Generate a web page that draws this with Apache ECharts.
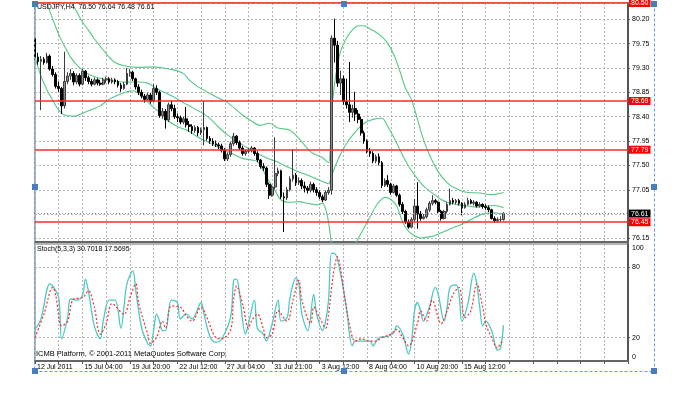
<!DOCTYPE html>
<html><head><meta charset="utf-8">
<script src="https://cdn.jsdelivr.net/npm/echarts@6/dist/echarts.min.js"></script>
<style>html,body{margin:0;padding:0;background:#fff}#c{width:679px;height:395px}</style>
</head><body><div id="c"></div>
<script>
const symbol = 'USDJPY,H4';
const xTickLabels = ['12 Jul 2011','15 Jul 04:00','19 Jul 20:00','22 Jul 12:00','27 Jul 04:00','31 Jul 21:00','3 Aug 12:00','8 Aug 04:00','10 Aug 20:00','15 Aug 12:00'];
const xTickBars = [0,16,32,48,64,80,96,112,128,144];
const priceTicks = [80.20,79.75,79.30,78.85,78.40,77.95,77.50,77.05,76.60,76.15];
const redLevels = [80.50,78.69,77.79,76.45];
const lastPrice = 76.61;
const stochTicks = [0,20,80,100];
const stochLevels = [20,80];
const stochTitle = 'Stoch(5,3,3) 30.7018 17.5695';
const copyright = 'ICMB Platform, \u00A9 2001-2011 MetaQuotes Software Corp.';

const opens = [79.84,79.50,79.42,79.46,79.40,79.52,79.28,79.18,78.96,78.92,
78.60,79.05,79.15,79.20,79.04,79.16,79.00,79.24,79.12,79.05,
79.00,79.08,79.02,79.00,79.08,79.10,79.04,79.08,79.05,78.98,
78.92,79.00,79.20,79.22,79.10,78.95,78.85,78.78,78.72,78.80,
78.68,78.92,78.85,78.42,78.50,78.34,78.62,78.55,78.40,78.38,
78.30,78.36,78.25,78.22,78.14,78.20,78.10,78.16,78.20,78.00,
77.95,77.90,77.88,77.86,77.78,77.62,77.70,77.90,78.04,77.92,
77.82,77.72,77.76,77.78,77.82,77.72,77.60,77.48,77.45,77.15,
76.95,77.10,77.35,77.40,76.92,76.90,77.05,77.25,77.32,77.18,
77.22,77.12,77.08,77.04,77.15,77.05,77.00,76.92,76.86,77.00,
77.04,79.85,79.72,79.02,79.10,78.68,78.62,78.48,78.55,78.45,
78.35,78.10,77.95,77.76,77.72,77.58,77.66,77.55,77.13,77.22,
77.15,77.00,77.12,76.95,76.78,76.65,76.45,76.36,76.50,76.75,
76.60,76.52,76.55,76.68,76.80,76.85,76.82,76.65,76.52,76.65,
76.78,76.85,76.82,76.85,76.80,76.72,76.78,76.85,76.80,76.82,
76.75,76.78,76.74,76.72,76.68,76.52,76.48,76.50,76.50];
const closes = [79.50,79.42,79.46,79.40,79.52,79.28,79.18,78.96,78.92,78.60,
79.05,79.15,79.20,79.04,79.16,79.00,79.24,79.12,79.05,79.00,
79.08,79.02,79.00,79.08,79.10,79.04,79.08,79.05,78.98,78.92,
79.00,79.20,79.22,79.10,78.95,78.85,78.78,78.72,78.80,78.68,
78.92,78.85,78.42,78.50,78.34,78.62,78.55,78.40,78.38,78.30,
78.36,78.25,78.22,78.14,78.20,78.10,78.16,78.20,78.00,77.95,
77.90,77.88,77.86,77.78,77.62,77.70,77.90,78.04,77.92,77.82,
77.72,77.76,77.78,77.82,77.72,77.60,77.48,77.45,77.15,76.95,
77.10,77.35,77.40,76.92,76.90,77.05,77.25,77.32,77.18,77.22,
77.12,77.08,77.04,77.15,77.05,77.00,76.92,76.86,77.00,77.04,
79.85,79.72,79.02,79.10,78.68,78.62,78.48,78.55,78.45,78.35,
78.10,77.95,77.76,77.72,77.58,77.66,77.55,77.13,77.22,77.15,
77.00,77.12,76.95,76.78,76.65,76.45,76.36,76.50,76.75,76.60,
76.52,76.55,76.68,76.80,76.85,76.82,76.65,76.52,76.65,76.78,
76.85,76.82,76.85,76.80,76.72,76.78,76.85,76.80,76.82,76.75,
76.78,76.74,76.72,76.68,76.52,76.48,76.50,76.50,76.61];
const highs = [79.86,79.58,79.52,79.50,79.58,79.55,79.34,79.22,79.05,78.95,
79.60,79.22,79.28,79.24,79.20,79.20,79.28,79.26,79.16,79.10,
79.12,79.11,79.08,79.12,79.14,79.13,79.12,79.11,79.08,79.02,
79.04,79.30,79.28,79.25,79.12,79.00,78.90,78.82,78.84,78.84,
79.00,78.98,78.88,78.56,78.54,78.66,78.70,78.62,78.46,78.42,
78.40,78.58,78.32,78.26,78.24,78.23,78.20,78.68,78.22,78.04,
78.00,77.96,77.92,77.90,77.82,77.74,77.94,78.10,78.06,77.96,
77.86,77.80,77.82,77.86,77.84,77.76,77.62,77.54,77.48,77.18,
77.14,78.02,77.46,77.42,77.00,77.10,77.30,77.80,77.36,77.28,
77.26,77.20,77.12,77.20,77.18,77.10,77.04,76.96,77.04,77.10,
79.90,80.21,79.80,79.25,79.16,79.10,79.41,78.62,78.86,78.52,
78.40,78.14,77.98,77.82,77.76,77.70,77.72,77.58,77.26,77.32,
77.18,77.16,77.14,76.98,76.82,76.68,76.50,76.54,76.88,77.19,
76.66,76.60,76.72,76.84,76.95,76.88,76.84,76.68,76.68,76.82,
77.07,76.90,76.88,76.88,76.82,76.82,76.90,76.88,76.86,76.84,
76.82,76.80,76.78,76.76,76.70,76.56,76.54,76.56,76.64];
const lows = [79.45,79.36,78.52,79.36,79.38,79.25,79.14,78.92,78.86,78.45,
78.55,79.00,79.08,78.98,79.00,78.96,78.98,79.06,79.00,78.96,
78.98,78.98,78.97,78.98,79.02,79.00,79.01,79.00,78.94,78.86,
78.90,78.98,79.14,79.06,78.90,78.80,78.74,78.66,78.70,78.64,
78.66,78.80,78.38,78.36,78.18,78.30,78.50,78.36,78.30,78.26,
78.26,78.20,78.12,78.08,78.10,78.04,78.06,77.87,77.96,77.90,
77.86,77.84,77.80,77.74,77.58,77.58,77.66,77.86,77.88,77.78,
77.68,77.68,77.72,77.74,77.68,77.56,77.44,77.40,77.10,76.88,
76.92,77.06,77.30,76.88,76.27,76.86,77.02,77.20,77.12,77.14,
77.06,77.00,76.98,77.00,77.00,76.94,76.88,76.82,76.84,76.96,
76.96,79.40,78.95,78.80,78.62,78.55,78.30,78.38,78.32,78.28,
78.05,77.90,77.72,77.66,77.54,77.54,77.50,77.08,77.10,77.10,
76.96,76.98,76.92,76.74,76.60,76.42,76.33,76.34,76.46,76.33,
76.48,76.50,76.52,76.64,76.76,76.78,76.62,76.48,76.50,76.62,
76.76,76.78,76.78,76.76,76.58,76.70,76.76,76.78,76.76,76.72,
76.72,76.70,76.68,76.64,76.50,76.44,76.44,76.46,76.48];

const bbUpper = [[6,81.20],[8,80.85],[11,80.58],[13,80.44],[16,80.15],[18,80.00],[20,79.84],[22,79.70],[25,79.50],[27,79.40],[30,79.34],[35,79.31],[40,79.32],[42,79.31],[47,79.26],[50,79.20],[52,79.08],[55,78.95],[59,78.83],[62,78.74],[65,78.66],[70,78.43],[73,78.32],[76,78.24],[79,78.28],[82,78.19],[86,78.15],[89,78.00],[93,77.75],[97,77.64],[99,77.55],[100,78.45],[101,79.00],[102,79.35],[103,79.60],[105,79.85],[107,80.00],[109,80.08],[111,80.08],[113,80.02],[115,79.96],[117,79.88],[119,79.75],[121,79.55],[123,79.25],[125,78.92],[127,78.71],[129,78.35],[131,77.98],[133,77.70],[136,77.38],[139,77.18],[141,77.10],[145,77.01],[150,76.99],[154,76.96],[158,77.00]];
const bbMiddle = [[2,80.80],[4,80.50],[6,80.20],[8,79.92],[10,79.70],[12,79.50],[14,79.36],[16,79.26],[19,79.16],[22,79.11],[25,79.08],[28,79.04],[32,79.04],[35,79.04],[38,79.02],[41,78.92],[44,78.84],[47,78.76],[50,78.66],[52,78.60],[56,78.48],[59,78.37],[62,78.20],[65,78.06],[68,77.95],[70,77.88],[73,77.78],[76,77.69],[79,77.62],[82,77.56],[86,77.45],[89,77.38],[92,77.32],[95,77.25],[98,77.18],[99,77.16],[100,77.30],[101,77.45],[102,77.58],[103,77.70],[105,77.90],[107,78.05],[109,78.18],[111,78.28],[114,78.35],[117,78.37],[119,78.22],[121,78.02],[123,77.80],[125,77.58],[127,77.40],[129,77.25],[131,77.12],[133,77.03],[135,76.95],[137,76.87],[139,76.82],[141,76.79],[143,76.77],[146,76.75],[149,76.73],[152,76.75],[155,76.76],[158,76.72]];
const bbLower = [[0,79.50],[2,79.15],[4,78.90],[6,78.70],[8,78.52],[10,78.43],[13,78.41],[16,78.46],[19,78.53],[22,78.60],[25,78.72],[28,78.80],[31,78.86],[33,78.88],[36,78.78],[39,78.62],[42,78.48],[45,78.32],[48,78.22],[52,78.13],[55,78.02],[58,77.94],[61,77.86],[64,77.78],[67,77.70],[70,77.63],[73,77.60],[75,77.57],[77,77.40],[79,77.20],[81,77.03],[83,76.86],[86,76.82],[89,76.83],[92,76.80],[95,76.77],[97,76.80],[98,76.70],[99,76.45],[100,76.05],[101,75.75],[103,75.55],[105,75.65],[107,75.95],[109,76.15],[111,76.35],[113,76.55],[115,76.75],[117,76.88],[118,76.91],[120,76.87],[122,76.75],[124,76.45],[126,76.28],[128,76.20],[130,76.16],[133,76.18],[136,76.23],[139,76.30],[142,76.37],[145,76.44],[148,76.53],[151,76.60],[154,76.63],[158,76.60]];

const stochMain = [[0,27],[2,36],[5,66],[6,64],[8,54],[9,19],[11,37],[12,53],[14,52],[16,56],[17,70],[18,60],[20,30],[22,19],[23,34],[25,52],[27,52],[29,28],[30,46],[31,66],[33,77],[34,60],[36,28],[38,15],[39,13],[40,26],[41,40],[42,34],[43,26],[44,26],[46,52],[48,50],[49,36],[51,40],[53,36],[56,50],[57,40],[59,21],[61,16],[63,19],[66,38],[67,69],[68,70],[69,57],[71,23],[72,32],[74,52],[75,28],[77,23],[78,17],[80,32],[82,52],[83,34],[85,37],[86,54],[88,71],[89,66],[90,40],[92,26],[94,57],[95,40],[97,26],[98,34],[99,52],[100,92],[101,92],[103,75],[105,46],[107,13],[108,17],[111,17],[113,17],[114,13],[116,20],[119,21],[121,24],[122,30],[124,23],[126,6],[127,17],[128,43],[129,50],[130,43],[131,34],[133,46],[135,63],[136,57],[138,34],[139,46],[140,63],[142,65],[143,57],[144,34],[146,49],[148,75],[149,66],[150,46],[151,30],[152,34],[154,26],[156,9],[157,11],[158,30.7018]];
const stochSignal = [[0,20],[3,40],[6,63],[7,56],[9,30],[11,34],[13,53],[16,54],[18,60],[20,46],[22,23],[24,32],[26,49],[30,40],[32,54],[34,66],[35,49],[38,23],[39,15],[41,20],[43,34],[44,28],[46,47],[49,46],[51,39],[53,34],[56,46],[58,37],[61,20],[63,19],[66,27],[67,53],[68,64],[70,49],[72,28],[73,34],[75,40],[77,28],[78,20],[80,23],[82,43],[85,34],[87,52],[89,69],[90,52],[93,32],[94,46],[96,37],[98,28],[99,40],[100,62],[101,80],[102,89],[103,80],[104,62],[106,32],[108,17],[110,19],[113,17],[115,17],[117,20],[120,23],[122,27],[124,20],[126,13],[129,32],[130,43],[132,34],[134,52],[137,32],[139,43],[141,57],[143,63],[145,37],[147,43],[149,66],[151,46],[152,32],[154,20],[156,11],[157,15],[158,17.5695]];

const FONT = 'Liberation Sans';
const last = opens.length - 1;
const header = symbol + '  ' + [opens[last], highs[last], lows[last], closes[last]].map(v => v.toFixed(2)).join(' ');
const candles = opens.map((o, i) => [i, o, closes[i], lows[i], highs[i]]);
const gridLine = {show: true, lineStyle: {color: '#b4b4b4', type: [2, 2], width: 1}};
const txt = {fontSize: 7, color: '#000', fontFamily: FONT};

const chart = echarts.init(document.getElementById('c'));
const handles = [[35,4],[344,4],[654,4],[35,187],[654,187],[35,371],[344,371],[654,371]];
chart.setOption({
  animation: false,
  backgroundColor: '#fff',
  title: [
    {text: header, left: 37, top: 4, padding: 0, textStyle: Object.assign({fontWeight: 'normal'}, txt)},
    {text: stochTitle, left: 37, top: 246, padding: 0, textStyle: Object.assign({fontWeight: 'normal'}, txt)},
    {text: copyright, left: 36, top: 350, padding: 0, textStyle: Object.assign({fontWeight: 'normal'}, txt, {fontSize: 7.5})}
  ],
  grid: [
    {left: 35, top: 3, width: 593, height: 239, show: true, borderColor: '#6a6a6a', borderWidth: 1},
    {left: 35, top: 244, width: 593, height: 117, show: true, borderColor: '#6a6a6a', borderWidth: 1}
  ],
  xAxis: [
    {type: 'value', gridIndex: 0, min: 0, max: 200, interval: 8,
     axisLabel: {show: false}, axisTick: {show: false},
     axisLine: {show: true, onZero: false, lineStyle: {color: '#666', width: 2}},
     splitLine: gridLine},
    {type: 'value', gridIndex: 1, min: 0, max: 200, interval: 8,
     axisLine: {show: true, onZero: false, lineStyle: {color: '#666', width: 2}},
     axisTick: {show: true, length: 3, lineStyle: {color: '#555'}},
     axisLabel: Object.assign({customValues: xTickBars, formatter: v => { const k = xTickBars.indexOf(v); return k >= 0 ? xTickLabels[k] : ''; }, align: 'left', margin: 3, padding: [0, 0, 0, 2]}, txt),
     splitLine: gridLine}
  ],
  yAxis: [
    {type: 'value', gridIndex: 0, position: 'right', min: 76.085, max: 80.50,
     axisLine: {show: true, onZero: false, lineStyle: {color: '#555', width: 2}},
     axisTick: {show: true, length: 2, customValues: priceTicks, lineStyle: {color: '#555'}},
     axisLabel: Object.assign({customValues: priceTicks, formatter: v => v.toFixed(2), margin: 4}, txt),
     splitLine: gridLine},
    {type: 'value', gridIndex: 1, position: 'right', min: 0, max: 100,
     axisLine: {show: true, onZero: false, lineStyle: {color: '#555', width: 2}},
     axisTick: {show: true, length: 2, customValues: stochLevels, lineStyle: {color: '#555'}},
     axisLabel: Object.assign({customValues: stochTicks, margin: 4,
       formatter: v => v === 100 ? '{t|100}' : (v === 0 ? '{b|0}' : String(v)),
       rich: {t: Object.assign({padding: [9, 0, 0, 0]}, txt), b: Object.assign({padding: [0, 0, 8, 0]}, txt)}}, txt),
     splitLine: gridLine}
  ],
  series: [
    {type: 'line', xAxisIndex: 0, yAxisIndex: 0, data: bbUpper, showSymbol: false, smooth: 0.3, z: 1, lineStyle: {color: '#55c888', width: 1.1}},
    {type: 'line', xAxisIndex: 0, yAxisIndex: 0, data: bbMiddle, showSymbol: false, smooth: 0.3, z: 1, lineStyle: {color: '#55c888', width: 1.1}},
    {type: 'line', xAxisIndex: 0, yAxisIndex: 0, data: bbLower, showSymbol: false, smooth: 0.3, z: 1, lineStyle: {color: '#55c888', width: 1.1}},
    {type: 'candlestick', xAxisIndex: 0, yAxisIndex: 0, data: candles, barWidth: 2.2, z: 3,
     itemStyle: {color: '#8c8c8c', color0: '#000', borderColor: '#3c3c3c', borderColor0: '#000', borderWidth: 1},
     markLine: {symbol: 'none', silent: true, z: 6,
       lineStyle: {color: '#ff2a2a', width: 1.5, type: 'solid'},
       label: {show: true, position: 'end', distance: 1, formatter: p => p.value.toFixed(2), color: '#fff', backgroundColor: '#ff0000', padding: [1, 2, 0, 2], fontSize: 7, fontFamily: FONT},
       data: redLevels.map(v => ({yAxis: v})).concat([{yAxis: lastPrice, lineStyle: {color: '#9a9a9a', type: [1, 2], width: 1}, label: {backgroundColor: '#000'}}])}},
    {type: 'line', xAxisIndex: 1, yAxisIndex: 1, data: stochMain, showSymbol: false, smooth: 0.35, lineStyle: {color: '#4cc9c2', width: 1.3}},
    {type: 'line', xAxisIndex: 1, yAxisIndex: 1, data: stochSignal, showSymbol: false, smooth: 0.35, lineStyle: {color: '#ff2a2a', width: 1.2, type: [2, 2]}}
  ],
  graphic: [
    {type: 'rect', silent: true, z: 100, shape: {x: 34.5, y: 3.5, width: 620, height: 368}, style: {fill: 'none', stroke: '#6a9ae0', lineWidth: 1, lineDash: [3, 2]}}
  ].concat(handles.map(h => ({type: 'rect', silent: true, z: 101, shape: {x: h[0] - 3, y: h[1] - 3, width: 6, height: 6}, style: {fill: '#4a7cc0'}})))
});
</script></body></html>
